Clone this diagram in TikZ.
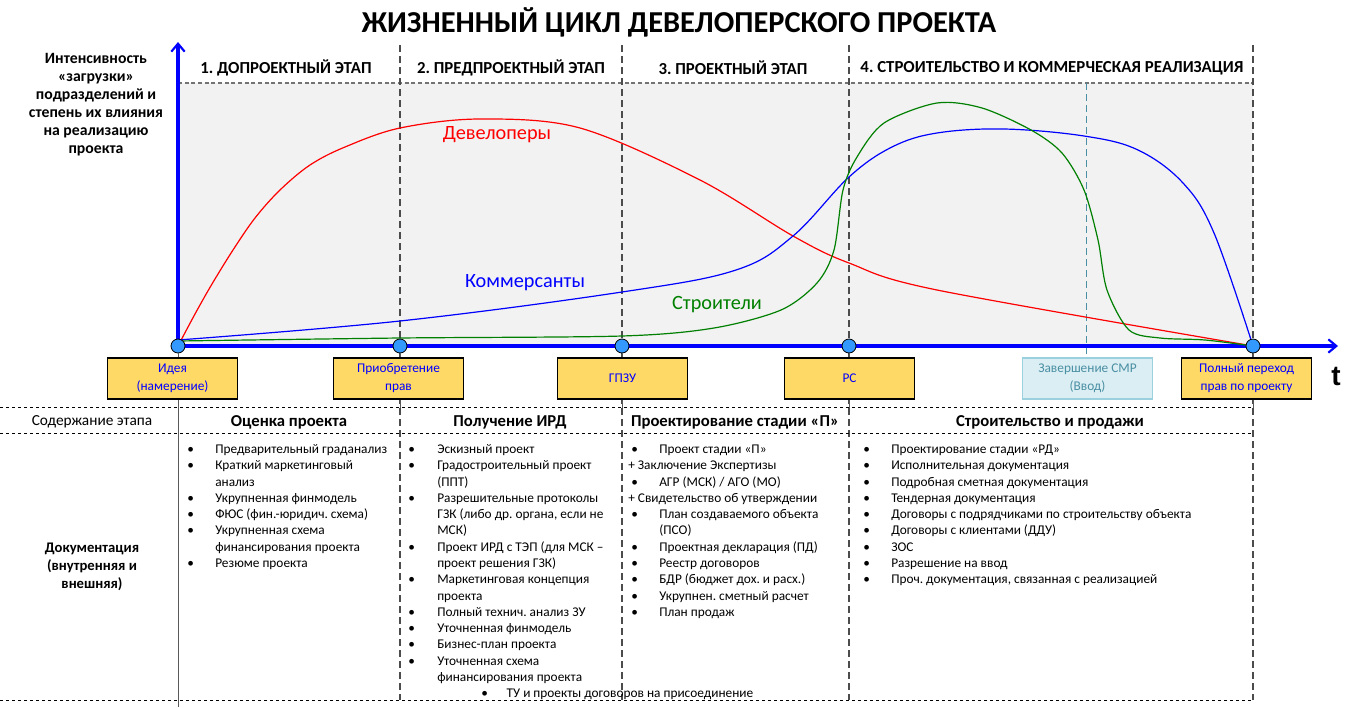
\documentclass[tikz,border=0pt]{standalone}
\usepackage{fontspec}
\setmainfont{Carlito}
\newfontfamily\tfont{Liberation Sans}
\usetikzlibrary{arrows.meta}
\definecolor{gold}{HTML}{FFD966}
\definecolor{msblue}{HTML}{3399FF}
\definecolor{bgray}{HTML}{F2F2F2}
\definecolor{lblue}{HTML}{DAEEF3}
\definecolor{lbord}{HTML}{9BD0DE}
\definecolor{teal2}{HTML}{4A8FA3}
\definecolor{dgreen}{HTML}{008000}
\frenchspacing
\begin{document}
\begin{tikzpicture}[x=0.75pt,y=-0.75pt,
 vdash/.style={draw=black!70, line width=0.9pt, dash pattern=on 5.25pt off 3pt},
 hdash/.style={draw=black, line width=0.6pt, dash pattern=on 2.6pt off 1.9pt},
 topdash/.style={draw=black!55, line width=0.9pt, dash pattern=on 3pt off 2pt},
 axis/.style={draw=blue, line width=2.4pt},
 ms/.style={circle, draw=black, fill=msblue, line width=0.6pt, minimum size=10.5pt, inner sep=0pt},
 msbox/.style={rectangle, draw=black, fill=gold, line width=0.9pt, minimum width=97.5pt, minimum height=30.75pt, inner sep=1pt, text=blue, align=center, font=\fontsize{10}{13.5}\selectfont},
 tickl/.style={draw=black!65, line width=0.75pt},
 stage/.style={font=\bfseries\fontsize{12.6}{14}\selectfont},
 colhead/.style={font=\bfseries\fontsize{12.5}{14}\selectfont},
 doclist/.style={anchor=north west, inner sep=0pt, font=\fontsize{10}{12.2}\selectfont},
 cv/.style={line width=0.9pt},
 clabel/.style={font=\fontsize{15.2}{17}\selectfont},
]
\useasboundingbox (0,0) rectangle (1364,707);
% background plot area
\fill[bgray] (178,83) rectangle (1253,346);
\draw[topdash] (178,83) -- (1253,83);
% vertical stage dividers
\foreach \xx in {400,622,849,1253} \draw[vdash] (\xx,45) -- (\xx,700);
\draw[teal2, line width=0.75pt, dash pattern=on 5.25pt off 3pt] (1086,83) -- (1086,358);
% table lines
\draw[hdash] (0,407) -- (1253,407);
\draw[hdash] (0,433) -- (1253,433);
\draw[hdash] (0,700) -- (1253,700);
\coordinate (bot) at (0,707);
% title
\node[font=\bfseries\fontsize{22.8}{26}\selectfont] (title) at (679,22) {ЖИЗНЕННЫЙ ЦИКЛ ДЕВЕЛОПЕРСКОГО ПРОЕКТА};
% y label
\node[align=center, font=\bfseries\fontsize{11.8}{13.5}\selectfont] (ylab) at (96,105) {Интенсивность\\«загрузки»\\подразделений и\\степень их влияния\\на реализацию\\проекта};
% stage headers
\node[stage] (s1) at (286,68) {1. ДОПРОЕКТНЫЙ ЭТАП};
\node[stage] (s2) at (511,68) {2. ПРЕДПРОЕКТНЫЙ ЭТАП};
\node[stage] (s3) at (733,68) {3. ПРОЕКТНЫЙ ЭТАП};
\node[stage] (s4) at (1052,68) {4. СТРОИТЕЛЬСТВО И КОММЕРЧЕСКАЯ РЕАЛИЗАЦИЯ};
% axes
\coordinate (o) at (178,346);
\coordinate (ytop) at (178,42);
\coordinate (xend) at (1338,346);
\draw[axis, -{Straight Barb[length=6pt,width=10pt,line width=1.6pt]}] (o) -- (ytop);
\draw[axis, -{Straight Barb[length=6pt,width=10pt,line width=1.6pt]}] (o) -- (xend);
\node[font=\tfont\bfseries\fontsize{21}{24}\selectfont] (t) at (1336,376) {t};
% curves
\draw[cv, red] plot[smooth, tension=0.55] coordinates {(178,346) (195,314) (212,284) (233,250) (255,218) (280,190) (310,165) (345,147) (400,128) (480,119) (580,128) (700,180) (793,236) (849,263) (937,290) (1253,346)};
\draw[cv, blue] plot[smooth, tension=0.6] coordinates {(178,340) (400,321) (622,292) (736,270) (793,236) (849,177) (892,147) (937,133) (1004,129) (1084,136) (1138,150) (1183,183) (1214,233) (1253,346)};
\draw[cv, dgreen] plot[smooth, tension=0.5] coordinates {(178,341) (400,338) (622,336) (714,328) (781,310) (817,283) (834,250) (843,190) (857,157) (884,123) (937,103) (982,108) (1031,130) (1062,153) (1084,190) (1098,240) (1107,290) (1129,330) (1160,338) (1205,340) (1253,346)};
\node[clabel, red] (ldev) at (497,135) {Девелоперы};
\node[clabel, blue] (lcom) at (525,283) {Коммерсанты};
\node[clabel, dgreen] (lstr) at (717,305) {Строители};
% milestones
\node[ms] (m1) at (178,346) {};
\node[ms] (m2) at (400,346) {};
\node[ms] (m3) at (622,346) {};
\node[ms] (m4) at (849,346) {};
\node[ms] (m6) at (1253,346) {};
\node[msbox] (b1) at (172.5,378.5) {Идея\\(намерение)};
\node[msbox] (b2) at (398.5,378.5) {Приобретение\\прав};
\node[msbox] (b3) at (622.5,378.5) {ГПЗУ};
\node[msbox] (b4) at (849.5,378.5) {РС};
\node[msbox, fill=lblue, draw=lbord, text=teal2] (b5) at (1087.5,378.5) {Завершение СМР\\(Ввод)};
\node[msbox] (b6) at (1246.5,378.5) {Полный переход\\прав по проекту};
\draw[tickl] (m1.south) -- (m1 |- b1.north);
\draw[tickl] (m1 |- b1.south) -- (m1 |- bot);
\foreach \i in {2,3,4,6} {
  \draw[tickl] (m\i.south) -- (m\i |- b\i.north);
  \draw[tickl] (m\i |- b\i.south) -- ([yshift=-6pt]m\i |- b\i.south);
}
% table headers
\node[font=\fontsize{11.5}{13}\selectfont] (rowh) at (92,422) {Содержание этапа};
\node[align=center, font=\bfseries\fontsize{11}{13.5}\selectfont] (rowd) at (92,567) {Документация\\(внутренняя и\\внешняя)};
\node[colhead] (h1) at (289,422) {Оценка проекта};
\node[colhead] (h2) at (510,422) {Получение ИРД};
\node[colhead] (h3) at (735,422) {Проектирование стадии «П»};
\node[colhead] (h4) at (1050,422) {Строительство и продажи};
% documents
\node[doclist] (c1) at (187,442) {\begin{tabular}{@{}p{21pt}@{}l@{}}
•&Предварительный граданализ\\
•&Краткий маркетинговый\\
&анализ\\
•&Укрупненная финмодель\\
•&ФЮС (фин.-юридич. схема)\\
•&Укрупненная схема\\
&финансирования проекта\\
•&Резюме проекта
\end{tabular}};
\node[doclist] (c2) at (408,442) {\begin{tabular}{@{}p{21.75pt}@{}l@{}}
•&Эскизный проект\\
•&Градостроительный проект\\
&(ППТ)\\
•&Разрешительные протоколы\\
&ГЗК (либо др. органа, если не\\
&МСК)\\
•&Проект ИРД с ТЭП (для МСК –\\
&проект решения ГЗК)\\
•&Маркетинговая концепция\\
&проекта\\
•&Полный технич. анализ ЗУ\\
•&Уточненная финмодель\\
•&Бизнес-план проекта\\
•&Уточненная схема\\
&финансирования проекта
\end{tabular}};
\node[doclist] (c3) at (628,442) {\begin{tabular}{@{}p{23.25pt}@{}l@{}}
\hspace*{2.25pt}•&Проект стадии «П»\\
\multicolumn{2}{@{}l@{}}{+ Заключение Экспертизы}\\
\hspace*{2.25pt}•&АГР (МСК) / АГО (МО)\\
\multicolumn{2}{@{}l@{}}{+ Свидетельство об утверждении}\\
\hspace*{2.25pt}•&План создаваемого объекта\\
&(ПСО)\\
\hspace*{2.25pt}•&Проектная декларация (ПД)\\
\hspace*{2.25pt}•&Реестр договоров\\
\hspace*{2.25pt}•&БДР (бюджет дох. и расх.)\\
\hspace*{2.25pt}•&Укрупнен. сметный расчет\\
\hspace*{2.25pt}•&План продаж
\end{tabular}};
\node[doclist] (c4) at (863,442) {\begin{tabular}{@{}p{21pt}@{}l@{}}
•&Проектирование стадии «РД»\\
•&Исполнительная документация\\
•&Подробная сметная документация\\
•&Тендерная документация\\
•&Договоры с подрядчиками по строительству объекта\\
•&Договоры с клиентами (ДДУ)\\
•&ЗОС\\
•&Разрешение на ввод\\
•&Проч. документация, связанная с реализацией
\end{tabular}};
\node[doclist] (c5) at (481,686) {\begin{tabular}{@{}p{19pt}@{}l@{}}
•&ТУ и проекты договоров на присоединение
\end{tabular}};
\end{tikzpicture}
\end{document}
